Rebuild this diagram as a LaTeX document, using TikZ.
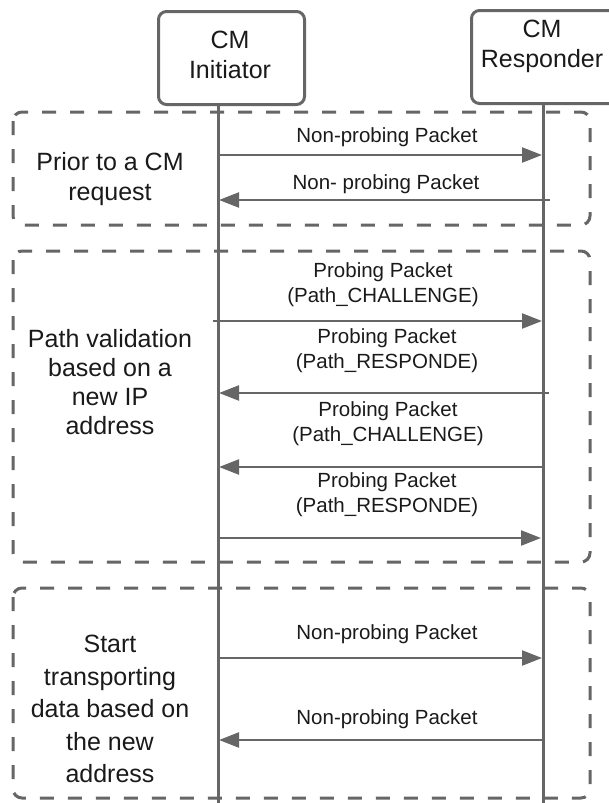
\documentclass[tikz,border=0pt]{standalone}
\usepackage{fontspec}
\setmainfont{Liberation Sans}
\usetikzlibrary{arrows.meta}
\definecolor{lg}{HTML}{666666}
\definecolor{tx}{HTML}{1A1A1A}
\begin{document}
\begin{tikzpicture}[x=1pt,y=-1pt,
  actor/.style={draw=lg, line width=3pt, rounded corners=8pt, anchor=north west, inner sep=0pt},
  big/.style={font=\fontsize{25}{30}\selectfont, text=tx, align=center},
  small/.style={font=\fontsize{20.5}{25}\selectfont, text=tx, align=center},
  frame/.style={draw=lg, line width=3pt, dash pattern=on 14pt off 14pt, rounded corners=9pt},
  life/.style={draw=lg, line width=3pt},
  msg/.style={draw=lg, line width=2.3pt, -{Triangle[length=20pt,width=15pt]}}]
\useasboundingbox (0,0) rectangle (608,803);
% frames
\draw[frame] (13,112) rectangle (590,225);
\draw[frame] (13,251) rectangle (590,562);
\draw[frame] (13,588) rectangle (590,798);
% actors
\node[actor, minimum width=146pt, minimum height=93pt] (ini) at (157,10) {};
\node[big] (initxt) at (230,55) {CM\\Initiator};
\node[actor, minimum width=150pt, minimum height=93pt] (res) at (470,9) {};
\node[big] (restxt) at (542,46) {CM\\Responder};
% lifelines
\coordinate (iniend) at (218,803);
\coordinate (resend) at (543,803);
\draw[life] (ini.south -| iniend) -- (iniend);
\draw[life] (res.south -| resend) -- (resend);
% message end points
\coordinate (a1s) at (218,155); \coordinate (a1e) at (542,155);
\coordinate (a2s) at (550,200); \coordinate (a2e) at (219,200);
\coordinate (a3s) at (213,321); \coordinate (a3e) at (542,321);
\coordinate (a4s) at (549,393); \coordinate (a4e) at (219,393);
\coordinate (a5s) at (543,467); \coordinate (a5e) at (219,467);
\coordinate (a6s) at (218,538); \coordinate (a6e) at (541,538);
\coordinate (a7s) at (218,658); \coordinate (a7e) at (542,658);
\coordinate (a8s) at (543,740); \coordinate (a8e) at (219,740);
\foreach \i in {1,...,8} {\draw[msg] (a\i s) -- (a\i e);}
% message labels
\node[small] (m1) at (387,137) {Non-probing Packet};
\node[small] (m2) at (386,184) {Non- probing Packet};
\node[small] (m3) at (383,285) {Probing Packet\\(Path\_CHALLENGE)};
\node[small] (m4) at (387,351) {Probing Packet\\(Path\_RESPONDE)};
\node[small] (m5) at (388,424) {Probing Packet\\(Path\_CHALLENGE)};
\node[small] (m6) at (387,495) {Probing Packet\\(Path\_RESPONDE)};
\node[small] (m7) at (387,634) {Non-probing Packet};
\node[small] (m8) at (387,719) {Non-probing Packet};
% phase labels
\node[big] (l1) at (110,179) {Prior to a CM\\request};
\node[big, font=\fontsize{25}{29}\selectfont] (l2) at (110,382) {Path validation\\based on a\\new IP\\address};
\node[big, font=\fontsize{25}{32.5}\selectfont] (l3) at (110,709) {Start\\transporting\\data based on\\the new\\address};
\end{tikzpicture}
\end{document}
